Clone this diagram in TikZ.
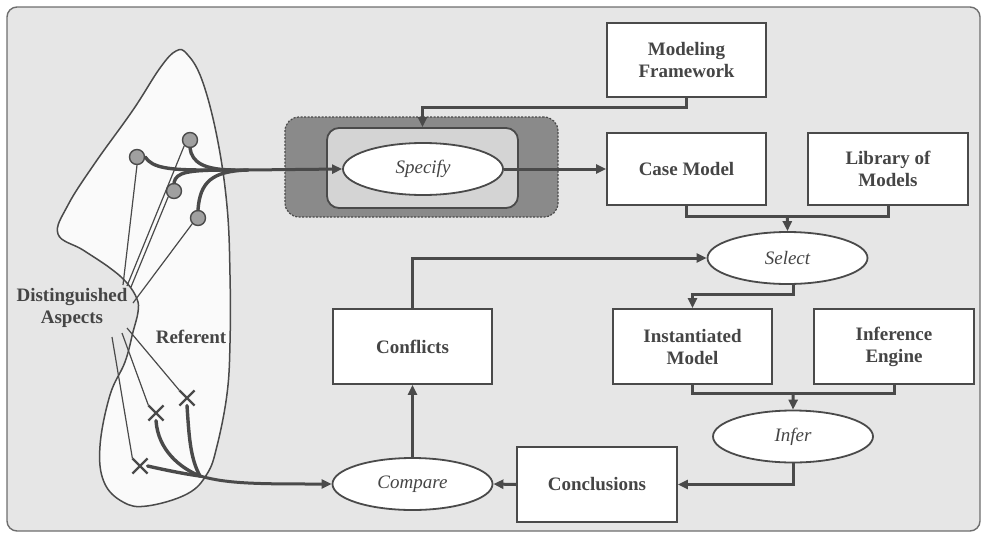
\documentclass[tikz,border=0pt]{standalone}
\usepackage{fontspec}
\setmainfont{Liberation Serif}
\usetikzlibrary{arrows.meta,shapes.geometric,shapes.misc,calc}

\definecolor{ink}{HTML}{4A4A4A}
\definecolor{txt}{HTML}{454545}
\definecolor{paper}{HTML}{E6E6E6}
\definecolor{shade}{HTML}{8A8A8A}
\definecolor{light}{HTML}{D4D4D4}
\definecolor{dotfill}{HTML}{A0A0A0}

\begin{document}
\begin{tikzpicture}[x=1pt,y=-1pt,
  box/.style={draw=ink, line width=1.8pt, fill=white, minimum width=159pt,
    minimum height=74pt, align=center, inner sep=0pt, text=txt,
    font=\bfseries\fontsize{19}{22}\selectfont},
  proc/.style={ellipse, draw=ink, line width=1.8pt, fill=white,
    minimum width=160pt, minimum height=52pt, inner sep=0pt, text=txt,
    font=\itshape\fontsize{19}{22}\selectfont},
  flow/.style={draw=ink, line width=3pt, -{Triangle[length=10pt,width=9pt]}},
  link/.style={draw=ink, line width=3pt},
  strand/.style={draw=ink, line width=3.4pt, line cap=round},
  hair/.style={draw=ink, line width=1.2pt},
  aspect/.style={circle, draw=ink, line width=1.4pt, fill=dotfill,
    minimum size=15pt, inner sep=0pt},
  crossmark/.style={cross out, draw=ink, line width=2.2pt, minimum size=13pt, inner sep=0pt},
  tag/.style={text=txt, align=center, inner sep=1pt,
    font=\bfseries\fontsize{19}{22}\selectfont}
]
\useasboundingbox (0,0) rectangle (987,538);

% frame
\draw[draw=ink!80, line width=1.4pt, fill=paper, rounded corners=10pt]
  (7,7) rectangle (980,531);

% the referent outline
\draw[ink, line width=1.5pt, fill=white!96!gray]
  plot[smooth cycle, tension=0.65] coordinates {
    (58,234) (83,250) (110,268) (127,283) (137,299) (138,312) (133,332)
    (125,362) (110,395) (100,446) (104,482) (123,502) (147,506) (187,494)
    (207,474) (217,446) (227,394) (230,343) (230,275) (227,206) (217,137)
    (202,80) (187,54) (176,51) (160,68) (133,110) (95,163) (68,205)};

% labels
\node[tag] (aspects) at (72,308) {Distinguished\\Aspects};
\node[tag] (referent) at (191,337) {Referent};

% distinguished aspects: circles and crosses
\node[aspect] (c1) at (137,157) {};
\node[aspect] (c2) at (190,140) {};
\node[aspect] (c3) at (174,191) {};
\node[aspect] (c4) at (198,218) {};
\node[crossmark] (x1) at (156,413) {};
\node[crossmark] (x2) at (187,398) {};
\node[crossmark] (x3) at (140,466) {};

% thin lines from the label to each aspect
\coordinate (a1) at (123,285);
\coordinate (a2) at (127,286);
\coordinate (a3) at (131,287);
\coordinate (a4) at (133,303);
\coordinate (b1) at (122,333);
\coordinate (b2) at (127,328);
\coordinate (b3) at (112,337);
\draw[hair] (c1.south) -- (a1);
\draw[hair] (c2.south west) -- (a2);
\draw[hair] (c3.south west) -- (a3);
\draw[hair] (c4.south west) -- (a4);
\draw[hair] (b1) -- (x1.north west);
\draw[hair] (b2) -- (x2.north west);
\draw[hair] (b3) -- (x3.north west);

% strands gathering the circles
\coordinate (joinA) at (248,170);
\draw[strand] (c1.east) .. controls (152,168) and (170,170) .. (205,170) -- (joinA);
\draw[strand] (c2.south) .. controls (192,162) and (203,170) .. (235,170);
\draw[strand] (c3.north) .. controls (176,172) and (188,170) .. (230,170);
\draw[strand] (c4.north) .. controls (200,182) and (212,171) .. (joinA);

% strands gathering the crosses
\coordinate (joinB) at (200,476);
\draw[strand] (x2.south) .. controls (189,435) and (190,458) .. (joinB);
\draw[strand] (x1.south) .. controls (158,450) and (180,468) .. (joinB);
\draw[strand] (x3.east) .. controls (165,470) and (185,474) .. (joinB);

% specify group
\node[draw=ink, line width=1.2pt, dash pattern=on 2pt off 1.5pt, fill=shade,
  rounded corners=14pt, minimum width=273pt, minimum height=100pt,
  inner sep=0pt] (specgroup) at (421.5,167) {};
\node[draw=ink, line width=1.8pt, fill=light, rounded corners=12pt,
  minimum width=191pt, minimum height=80pt, inner sep=0pt]
  (specinner) at (422.5,168) {};
\node[proc] (specify) at (423,169) {Specify};

% boxes
\node[box] (frame) at (686.5,60) {Modeling\\Framework};
\node[box, minimum height=72pt] (case) at (686.5,169) {Case Model};
\node[box, minimum height=72pt, minimum width=160pt] (library) at (888,169) {Library of\\Models};
\node[box, minimum height=75pt] (conflicts) at (412.5,346.5) {Conflicts};
\node[box, minimum height=75pt] (inst) at (692.5,346.5) {Instantiated\\Model};
\node[box, minimum height=75pt, minimum width=160pt] (engine) at (894,346.5) {Inference\\Engine};
\node[box, minimum height=75pt, minimum width=160pt] (concl) at (597,484.5) {Conclusions};

% processes
\node[proc] (select) at (787.5,258) {Select};
\node[proc] (infer) at (793,436.5) {Infer};
\node[proc] (compare) at (412.5,484) {Compare};

% connectors
\draw[flow] (joinA) -- (specify.west);
\draw[flow] (joinB) .. controls (228,484) and (260,484) .. (compare.west);
\draw[flow] (frame.south) -- ++(0,10) -| (specinner.north);
\draw[flow] (specify.east) -- (case.west);
\draw[link] (case.south) -- ++(0,11) -| (library.south);
\coordinate (toselect) at ($(case.south)!0.5!(library.south)+(0,11)$);
\draw[flow] (toselect) -- (select.north);
\draw[flow] (conflicts.north) |- (select.west);
\draw[flow] ([xshift=5.5pt]select.south) -- ++(0,10) -| (inst.north);
\draw[link] (inst.south) -- ++(0,9) -| (engine.south);
\coordinate (toinfer) at ($(inst.south)!0.5!(engine.south)+(0,9)$);
\draw[flow] (toinfer) -- (infer.north);
\draw[flow] (infer.south) |- (concl.east);
\draw[flow] (concl.west) -- (compare.east);
\draw[flow] (compare.north) -- (conflicts.south);
\end{tikzpicture}
\end{document}
